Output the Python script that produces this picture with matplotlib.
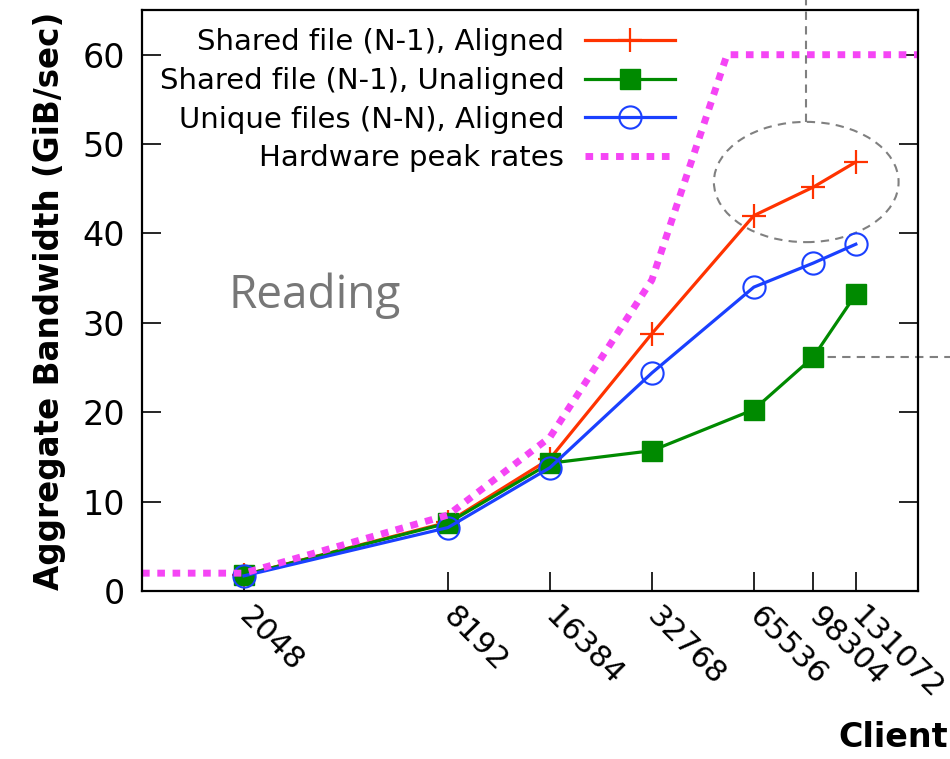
import matplotlib
matplotlib.use('Agg')
import matplotlib.pyplot as plt
from matplotlib.patches import Ellipse
import numpy as np

# ___ data ___
clients = [2048, 8192, 16384, 32768, 65536, 98304, 131072]
tick_labels = ['2048', '8192', '16384', '32768', '65536', '98304', '131072']
n1_aligned = [1.8, 7.7, 14.8, 28.8, 42.0, 45.2, 48.0]
n1_unaligned = [1.8, 7.6, 14.3, 15.7, 20.3, 26.2, 33.2]
nn_aligned = [1.7, 7.1, 13.8, 24.4, 34.0, 36.7, 38.8]
peak_x = [1024, 2048, 8192, 16384, 32768, 54600, 200000]
peak_y = [2.0, 2.0, 8.5, 17.2, 34.8, 60.0, 60.0]

red = '#ff3300'
green = '#008a00'
blue = '#1a40ff'
pink = '#f545f5'
gray = '#808080'

fig = plt.figure(figsize=(9.5, 7.59), dpi=100)
ax = fig.add_axes([0.1495, 0.2213, 0.8168, 0.7655])

ax.plot(clients, n1_aligned, color=red, lw=2.3, marker='+', ms=17, mew=1.6,
        label='Shared file (N-1), Aligned')
ax.plot(clients, n1_unaligned, color=green, lw=2.3, marker='s', ms=14,
        label='Shared file (N-1), Unaligned')
ax.plot(clients, nn_aligned, color=blue, lw=2.3, marker='o', ms=16, mew=1.5,
        mfc='none', label='Unique files (N-N), Aligned')
ax.plot(peak_x, peak_y, color=pink, lw=5, linestyle=(0, (1.1, 1.1)),
        dash_capstyle='butt', label='Hardware peak rates')

ax.set_xscale('log', base=2)
ax.set_xlim(1024, 200000)
ax.set_ylim(0, 65)
ax.set_xticks(clients)
ax.set_xticklabels(tick_labels, rotation=-45, ha='left', va='center',
                   rotation_mode='anchor')
ax.xaxis.set_minor_locator(matplotlib.ticker.NullLocator())
ax.set_yticks([0, 10, 20, 30, 40, 50, 60])

ax.tick_params(axis='x', direction='in', length=14, width=1.2, labelsize=22,
               pad=15, top=False)
ax.tick_params(axis='y', direction='in', length=14, width=1.2, labelsize=24,
               right=True, pad=12)
for s in ax.spines.values():
    s.set_linewidth(1.6)

ax.set_ylabel('Aggregate Bandwidth (GiB/sec)', fontsize=23.5, fontweight='bold',
              labelpad=12)
fig.text(0.998, 0.006, 'Client', fontsize=24, fontweight='bold',
         ha='right', va='bottom')

ax.text(0.111, 0.508, 'Reading', transform=ax.transAxes, fontsize=33,
        family='Open Sans', color='#777777', va='center', ha='left')

# annotation: ellipse + dashed leaders
ell = Ellipse((0.856, 0.704), 0.238, 0.207, transform=ax.transAxes,
              fill=False, edgecolor=gray, lw=1.5, linestyle=(0, (4, 3)),
              clip_on=False)
ax.add_patch(ell)
ax.plot([0.856, 0.856], [0.807, 1.03], transform=ax.transAxes, color=gray,
        lw=1.5, linestyle=(0, (4, 3)), clip_on=False)
ax.plot([98304, 260000], [26.2, 26.2], color=gray, lw=1.5,
        linestyle=(0, (4, 3)), clip_on=False, zorder=1)

ax.legend(loc='upper right', bbox_to_anchor=(0.687, 0.969), frameon=False,
          markerfirst=False, fontsize=21, handlelength=3.1, handletextpad=0.7,
          labelspacing=0.37, borderpad=0, borderaxespad=0)

plt.savefig('out.png', dpi=100)
